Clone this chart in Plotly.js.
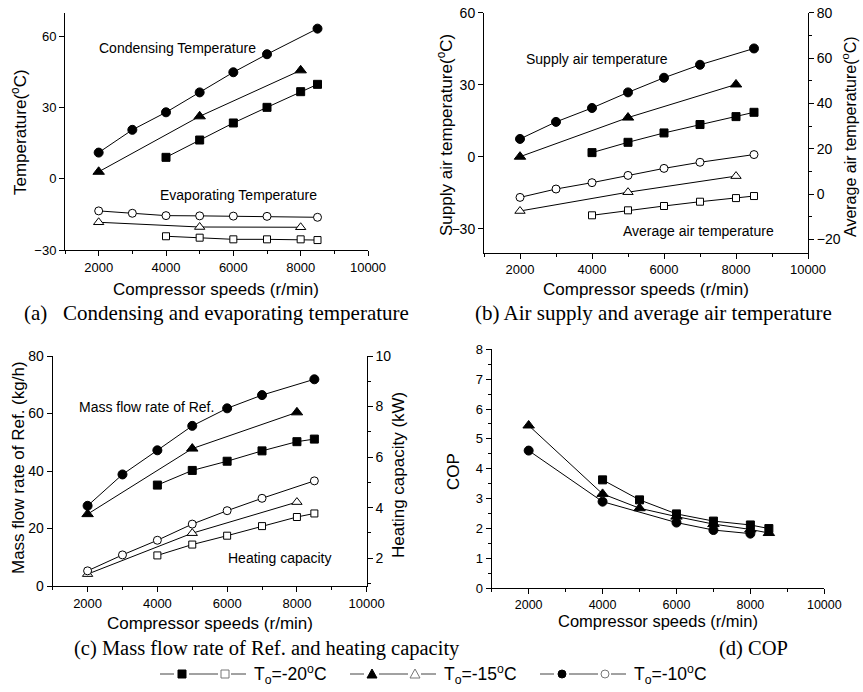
<!DOCTYPE html>
<html><head><meta charset="utf-8">
<script src="https://cdn.plot.ly/plotly-3.0.1.min.js"></script>
<style>html,body{margin:0;padding:0;background:#fff}#chart{width:863px;height:692px}</style>
</head><body><div id="chart"></div>
<script>
// ---------- DATA ----------
// compressor speeds (r/min) per ambient temperature series
const speeds10 = [2000, 3000, 4000, 5000, 6000, 7000, 8500];   // To = -10 C
const speeds15 = [2000, 5000, 8000];                           // To = -15 C
const speeds20 = [4000, 5000, 6000, 7000, 8000, 8500];         // To = -20 C

// (a) condensing / evaporating temperature (C)
const condT10 = [11.1, 20.7, 28.1, 36.5, 45.0, 52.6, 63.4];
const condT15 = [3.0, 26.4, 45.8];
const condT20 = [9.1, 16.4, 23.6, 30.2, 36.8, 39.9];
const evapT10 = [-13.5, -14.5, -15.5, -15.6, -15.7, -15.8, -16.2];
const evapT15 = [-18.3, -20.3, -20.4];
const evapT20 = [-24.2, -24.8, -25.5, -25.5, -25.5, -25.8];

// (b) supply air temperature (left axis) / average air temperature (right axis), C
const supplyT10 = [7.4, 14.5, 20.3, 26.8, 32.9, 38.3, 45.1];
const supplyT15 = [0.0, 16.3, 30.1];
const supplyT20 = [1.7, 6.0, 9.9, 13.4, 16.7, 18.5];
const avgT10 = [-1.5, 2.2, 5.0, 8.2, 11.3, 14.0, 17.4];
const avgT15 = [-7.5, 0.8, 7.9];
const avgT20 = [-9.4, -7.2, -5.3, -3.4, -1.8, -0.9];

// (c) mass flow rate of refrigerant (kg/h, left) / heating capacity (kW, right)
const massFlow10 = [27.9, 38.8, 47.2, 55.7, 61.8, 66.4, 71.9];
const massFlow15 = [25.0, 47.8, 60.4];
const massFlow20 = [35.1, 40.2, 43.4, 47.0, 50.2, 51.1];
const heatCap10 = [1.50, 2.13, 2.71, 3.35, 3.88, 4.37, 5.06];
const heatCap15 = [1.37, 2.99, 4.22];
const heatCap20 = [2.11, 2.54, 2.89, 3.27, 3.63, 3.77];

// (d) COP
const copSpeeds10 = [2000, 4000, 6000, 7000, 8000];
const cop10 = [4.61, 2.90, 2.20, 1.95, 1.83];
const copSpeeds15 = [2000, 4000, 5000, 6000, 7000, 8000, 8500];
const cop15 = [5.45, 3.16, 2.68, 2.40, 2.15, 1.97, 1.85];
const copSpeeds20 = [4000, 5000, 6000, 7000, 8000, 8500];
const cop20 = [3.63, 2.96, 2.49, 2.25, 2.12, 2.00];

// tick labels
const speedTicks = [2000, 4000, 6000, 8000, 10000];
const legendLabels = ['T<sub>o</sub>=-20<sup>o</sup>C', 'T<sub>o</sub>=-15<sup>o</sup>C', 'T<sub>o</sub>=-10<sup>o</sup>C'];

// ---------- HELPERS ----------
const W = 863, H = 692;
const X = p => p / W, Y = p => 1 - p / H;
const SANS = 'Liberation Sans, Arial, sans-serif';
const SERIF = 'Liberation Serif, Times New Roman, serif';

function tr(x, y, xa, ya, sym, filled, size) {
  return {
    x: x, y: y, xaxis: xa, yaxis: ya, type: 'scatter', mode: 'lines+markers',
    showlegend: false, cliponaxis: false, hoverinfo: 'skip',
    line: {color: 'black', width: 1},
    marker: {symbol: sym, size: size || 8, color: filled ? 'black' : 'white',
             line: {color: 'black', width: 1}}
  };
}

const traces = [
  // (a)
  tr(speeds20, condT20, 'x', 'y', 'square', true),
  tr(speeds15, condT15, 'x', 'y', 'triangle-up', true, 10),
  tr(speeds10, condT10, 'x', 'y', 'circle', true, 9),
  tr(speeds20, evapT20, 'x', 'y', 'square', false, 7),
  tr(speeds15, evapT15, 'x', 'y', 'triangle-up', false, 9),
  tr(speeds10, evapT10, 'x', 'y', 'circle', false, 8),
  // (b)
  tr(speeds20, supplyT20, 'x2', 'y2', 'square', true),
  tr(speeds15, supplyT15, 'x2', 'y2', 'triangle-up', true, 10),
  tr(speeds10, supplyT10, 'x2', 'y2', 'circle', true, 9),
  tr(speeds20, avgT20, 'x2', 'y3', 'square', false, 7),
  tr(speeds15, avgT15, 'x2', 'y3', 'triangle-up', false, 9),
  tr(speeds10, avgT10, 'x2', 'y3', 'circle', false, 8),
  // (c)
  tr(speeds20, massFlow20, 'x3', 'y4', 'square', true),
  tr(speeds15, massFlow15, 'x3', 'y4', 'triangle-up', true, 10),
  tr(speeds10, massFlow10, 'x3', 'y4', 'circle', true, 9),
  tr(speeds20, heatCap20, 'x3', 'y5', 'square', false, 7),
  tr(speeds15, heatCap15, 'x3', 'y5', 'triangle-up', false, 9),
  tr(speeds10, heatCap10, 'x3', 'y5', 'circle', false, 8),
  // (d)
  tr(copSpeeds10, cop10, 'x4', 'y6', 'circle', true, 9),
  tr(copSpeeds15, cop15, 'x4', 'y6', 'triangle-up', true, 10),
  tr(copSpeeds20, cop20, 'x4', 'y6', 'square', true)
];

const base = {
  showline: true, linecolor: 'black', linewidth: 1, ticks: 'outside', ticklen: 5,
  tickwidth: 1, tickcolor: 'black', showgrid: false, zeroline: false, fixedrange: true,
  tickfont: {family: SANS, size: 13, color: 'black'}
};
const minorX = {ticks: 'outside', ticklen: 3, tick0: 1000, dtick: 1000, tickcolor: 'black', showgrid: false};
function xax(d0, d1, anchor, fs) {
  return Object.assign({}, base, {domain: [X(d0), X(d1)], anchor: anchor, range: [1000, 10000],
    tickmode: 'array', tickvals: speedTicks, ticktext: speedTicks.map(String), minor: minorX,
    tickfont: {family: SANS, size: fs || 13, color: 'black'}});
}

function ann(text, px, py, o) {
  return Object.assign({text: text, x: X(px), y: Y(py), xref: 'paper', yref: 'paper',
    showarrow: false, xanchor: 'center', yanchor: 'middle',
    font: {family: SANS, size: 14, color: 'black'}}, o || {});
}
const nb = '\u00a0';
const annotations = [
  ann('Condensing Temperature', 177, 48),
  ann('Evaporating Temperature', 238, 195),
  ann('Supply air temperature', 597, 59),
  ann('Average air temperature', 698, 231),
  ann('Mass flow rate of Ref.', 146, 407),
  ann('Heating capacity', 280, 558),
  // x titles
  ann('Compressor speeds (r/min)', 216, 289, {font: {family: SANS, size: 17, color: 'black'}}),
  ann('Compressor speeds (r/min)', 646, 290, {font: {family: SANS, size: 17, color: 'black'}}),
  ann('Compressor speeds (r/min)', 210, 623, {font: {family: SANS, size: 17, color: 'black'}}),
  ann('Compressor speeds (r/min)', 658, 621, {font: {family: SANS, size: 16.5, color: 'black'}}),
  // y titles
  ann('Temperature(<sup>o</sup>C)', 19, 132, {textangle: -90, font: {family: SANS, size: 17, color: 'black'}}),
  ann('Supply air temperature(<sup>o</sup>C)', 445, 135, {textangle: -90, font: {family: SANS, size: 17, color: 'black'}}),
  ann('Average air temperature(<sup>o</sup>C)', 849, 137, {textangle: -90, font: {family: SANS, size: 16, color: 'black'}}),
  ann('Mass flow rate of Ref. (kg/h)', 18, 468, {textangle: -90, font: {family: SANS, size: 17, color: 'black'}}),
  ann('Heating capacity (kW)', 398, 475, {textangle: -90, font: {family: SANS, size: 17, color: 'black'}}),
  ann('COP', 453, 472, {textangle: -90, font: {family: SANS, size: 17, color: 'black'}}),
  // captions
  ann('(a)' + nb + nb + nb + 'Condensing and evaporating temperature', 22, 313, {xanchor: 'left', font: {family: SERIF, size: 21, color: 'black'}}),
  ann('(b) Air supply and average air temperature', 473, 313, {xanchor: 'left', font: {family: SERIF, size: 21, color: 'black'}}),
  ann('(c) Mass flow rate of Ref. and heating capacity', 72, 648, {xanchor: 'left', font: {family: SERIF, size: 20.5, color: 'black'}}),
  ann('(d) COP', 717, 648, {xanchor: 'left', font: {family: SERIF, size: 20.5, color: 'black'}})
];

// custom legend (shapes + text)
const shapes = [];
const groupStarts = [160, 350, 540];
const ly = 674;
const lineCol = '#444', openCol = '#777';
function hline(a, b, col) {
  shapes.push({type: 'line', xref: 'paper', yref: 'paper', x0: X(a), x1: X(b), y0: Y(ly), y1: Y(ly), line: {color: col, width: 1}});
}
function symShape(kind, cx, filled) {
  const fill = filled ? 'black' : 'white';
  const lc = filled ? 'black' : openCol;
  if (kind === 'square') {
    shapes.push({type: 'rect', xref: 'paper', yref: 'paper', x0: X(cx - 4), x1: X(cx + 4), y0: Y(ly + 4), y1: Y(ly - 4), fillcolor: fill, line: {color: lc, width: 1}});
  } else if (kind === 'circle') {
    shapes.push({type: 'circle', xref: 'paper', yref: 'paper', x0: X(cx - 4), x1: X(cx + 4), y0: Y(ly + 4), y1: Y(ly - 4), fillcolor: fill, line: {color: lc, width: 1}});
  } else {
    shapes.push({type: 'path', xref: 'paper', yref: 'paper',
      path: `M ${X(cx)} ${Y(ly - 5)} L ${X(cx + 5)} ${Y(ly + 4)} L ${X(cx - 5)} ${Y(ly + 4)} Z`,
      fillcolor: fill, line: {color: lc, width: 1}});
  }
}
const kinds = ['square', 'triangle', 'circle'];
groupStarts.forEach((s, i) => {
  hline(s, s + 14, lineCol);
  hline(s + 29, s + 58, lineCol);
  hline(s + 71, s + 86, lineCol);
  symShape(kinds[i], s + 22, true);
  symShape(kinds[i], s + 65, false);
  annotations.push(ann(legendLabels[i], s + 92, ly, {xanchor: 'left', font: {family: SANS, size: 17.5, color: 'black'}}));
});

const layout = {
  width: W, height: H, margin: {l: 0, r: 0, t: 0, b: 0},
  paper_bgcolor: 'white', plot_bgcolor: 'rgba(0,0,0,0)', showlegend: false,
  xaxis: xax(65, 368, 'y'),
  yaxis: Object.assign({}, base, {domain: [Y(250), Y(13)], anchor: 'x', range: [-30, 70], tick0: -30, dtick: 30}),
  xaxis2: xax(484, 808, 'y2'),
  yaxis2: Object.assign({}, base, {domain: [Y(252.7), Y(12.7)], anchor: 'x2', range: [-40, 60], tick0: 0, dtick: 30,
    tickfont: {family: SANS, size: 14, color: 'black'}}),
  yaxis3: Object.assign({}, base, {overlaying: 'y2', side: 'right', anchor: 'x2', range: [-25.9, 80], tick0: 0, dtick: 20,
    tickfont: {family: SANS, size: 14, color: 'black'},
    minor: {ticks: 'outside', ticklen: 3, tick0: 0, dtick: 10, tickcolor: 'black', showgrid: false}}),
  xaxis3: xax(52.7, 366.7, 'y4'),
  yaxis4: Object.assign({}, base, {domain: [Y(586), Y(356)], anchor: 'x3', range: [0, 80], tick0: 0, dtick: 20,
    tickfont: {family: SANS, size: 14, color: 'black'}}),
  yaxis5: Object.assign({}, base, {overlaying: 'y4', side: 'right', anchor: 'x3', range: [0.9, 10], tick0: 2, dtick: 2,
    tickfont: {family: SANS, size: 14, color: 'black'},
    minor: {ticks: 'outside', ticklen: 3, tick0: 1, dtick: 1, tickcolor: 'black', showgrid: false}}),
  xaxis4: xax(491.7, 824.3, 'y6', 12.5),
  yaxis6: Object.assign({}, base, {domain: [Y(588.3), Y(349.3)], anchor: 'x4', range: [0, 8], tick0: 0, dtick: 1,
    minor: {ticks: 'outside', ticklen: 3, tick0: 0, dtick: 0.5, tickcolor: 'black', showgrid: false}}),
  annotations: annotations,
  shapes: shapes
};

Plotly.newPlot('chart', traces, layout, {staticPlot: true, displayModeBar: false});
</script></body></html>
